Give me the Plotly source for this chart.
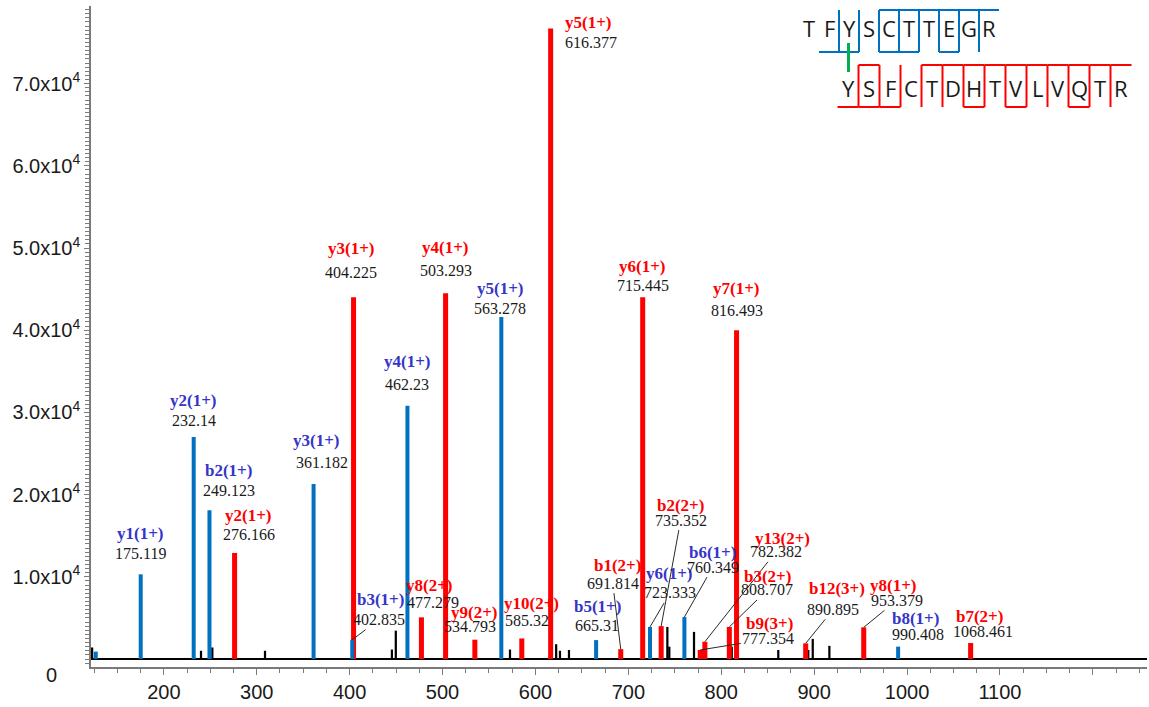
import plotly.graph_objects as go

# ---------------- spectrum data ----------------
# annotated fragment ions of the first (blue) peptide
blue_ions = ["y1(1+)", "y2(1+)", "b2(1+)", "y3(1+)", "b3(1+)", "y4(1+)",
             "y5(1+)", "b5(1+)", "y6(1+)", "b6(1+)", "b8(1+)"]
blue_mz = [175.119, 232.14, 249.123, 361.182, 402.835, 462.23,
           563.278, 665.31, 723.333, 760.349, 990.408]
blue_int = [10300, 27000, 18100, 21300, 2350, 30800,
            41600, 2300, 3900, 5100, 1500]

# annotated fragment ions of the second (red) peptide
red_ions = ["y2(1+)", "y3(1+)", "y8(2+)", "y4(1+)", "y9(2+)", "y10(2+)",
            "y5(1+)", "b1(2+)", "y6(1+)", "b2(2+)", "b9(3+)", "y13(2+)",
            "b3(2+)", "y7(1+)", "b12(3+)", "y8(1+)", "b7(2+)"]
red_mz = [276.166, 404.225, 477.279, 503.293, 534.793, 585.32,
          616.377, 691.814, 715.445, 735.352, 777.354, 782.382,
          808.707, 816.493, 890.895, 953.379, 1068.461]
red_int = [12900, 44000, 5070, 44500, 2350, 2500,
           76700, 1200, 44000, 4000, 1100, 2100,
           3900, 40000, 1900, 3850, 1950]

# unassigned blue peak
extra_blue_mz = [126.7]
extra_blue_int = [900]

# unassigned peaks
other_mz = [122.8, 240.0, 252.2, 308.9, 445.5, 449.7, 572.6, 617.6, 622.3,
            626.4, 636.1, 742.0, 744.1, 770.7, 779.0, 811.3, 861.4, 893.7,
            898.5, 916.4, 1067.8]
other_int = [1400, 1000, 1400, 1000, 1150, 3450, 1150, 1000, 1800,
             1000, 1100, 3900, 1500, 3300, 1100, 1500, 1100, 1100,
             2450, 1600, 1100]

# axis ticks
x_tick_vals = [200, 300, 400, 500, 600, 700, 800, 900, 1000, 1100, 1200]
x_tick_text = ["200", "300", "400", "500", "600", "700", "800", "900", "1000", "1100", ""]
y_tick_vals = [10000, 20000, 30000, 40000, 50000, 60000, 70000]
y_tick_text = ["1.0x10<sup>4</sup>", "2.0x10<sup>4</sup>", "3.0x10<sup>4</sup>",
               "4.0x10<sup>4</sup>", "5.0x10<sup>4</sup>", "6.0x10<sup>4</sup>",
               "7.0x10<sup>4</sup>"]

# cross-linked peptides and the observed cleavage sites
alpha_seq = "TFYSCTTEGR"
alpha_b = [2, 3, 5, 6, 8]
alpha_y = [1, 2, 3, 4, 5, 6]
beta_seq = "YSFCTDHTVLVQTR"
beta_b = [1, 2, 3, 7, 9, 12]
beta_y = [1, 2, 3, 4, 5, 6, 7, 8, 9, 10, 13]

# ---------------- styling / layout ----------------
W, H = 1149, 707
M_L, M_R, M_T, M_B = 91, 2, 6, 40
X_RANGE = [121.6, 1258.3]
Y_RANGE = [-973, 79440]

RED = "#FF0000"
BLUE_BAR = "#0070C0"
BLUE_TXT = "#3535C8"
TXT = "#1a1a1a"
AXIS = "#7a7a7a"
SERIF = "Liberation Serif"
SANS = "Liberation Sans"

# label placement (screen px relative to the bar top): name dx, dy, m/z dx, dy, leader line
label_pos = {
    175.119: (0, -41, 0, -21, False),
    232.14: (0, -37, 0, -17, False),
    249.123: (19.5, -40, 19.5, -20, False),
    276.166: (14.4, -37, 14.4, -18, False),
    361.182: (3.4, -43, 8.4, -21, False),
    404.225: (-2.5, -49, -2.5, -25, False),
    462.23: (0, -44, 0, -21, False),
    503.293: (0, -46, 0, -23, False),
    563.278: (-1, -29, -1, -9, False),
    616.377: (12.4, -6, 12.4, 14, False),
    715.445: (0, -31, 0, -12, False),
    816.493: (0, -42, 0, -20, False),
    402.835: (27.8, -40, 26.8, -20, True),
    477.279: (8.2, -32, 11.2, -15, False),
    534.793: (0, -27, -5, -13, False),
    585.32: (10, -35, 5, -18, False),
    665.31: (1, -34, 1, -15, False),
    691.814: (-3.4, -84, -8, -66, True),
    723.333: (19.3, -53, 20, -34, True),
    735.352: (19.5, -121, 19.5, -106, True),
    760.349: (28.3, -65, 28.3, -50, True),
    782.382: (78, -103, 71, -90, True),
    808.707: (38, -50, 38, -37, True),
    777.354: (69, -26, 68, -11, True),
    890.895: (31.6, -55, 27.6, -34, True),
    953.379: (29.6, -42, 33, -27, True),
    990.408: (17, -28, 20, -12, False),
    1068.461: (9.2, -26, 12.5, -11, False),
}
left_anchored = {616.377}

fig = go.Figure()
fig.add_bar(x=other_mz, y=other_int, width=2.4,
            marker=dict(color="black", line_width=0), hoverinfo="x+y")
fig.add_bar(x=red_mz, y=red_int, width=5.4,
            marker=dict(color=RED, line_width=0), hoverinfo="x+y")
fig.add_bar(x=blue_mz + extra_blue_mz, y=blue_int + extra_blue_int, width=4.3,
            marker=dict(color=BLUE_BAR, line_width=0), hoverinfo="x+y")

annotations = []


def add_ion_labels(names, mzs, ints, color):
    for name, mz, inten in zip(names, mzs, ints):
        ndx, ndy, mdx, mdy, leader = label_pos[mz]
        anchor = "left" if mz in left_anchored else "center"
        annotations.append(dict(
            x=mz, y=inten, xref="x", yref="y", text=f"<b>{name}</b>",
            showarrow=False, xshift=ndx, yshift=-ndy, xanchor=anchor, yanchor="middle",
            font=dict(family=SERIF, size=17, color=color)))
        if leader:
            annotations.append(dict(
                x=mz, y=inten, xref="x", yref="y", text=str(mz),
                showarrow=True, ax=mdx, ay=mdy, arrowhead=0, arrowwidth=1,
                arrowcolor="#2a2a2a", standoff=0, startstandoff=0,
                font=dict(family=SERIF, size=16, color=TXT)))
        else:
            annotations.append(dict(
                x=mz, y=inten, xref="x", yref="y", text=str(mz),
                showarrow=False, xshift=mdx, yshift=-mdy, xanchor=anchor, yanchor="middle",
                font=dict(family=SERIF, size=16, color=TXT)))


add_ion_labels(blue_ions, blue_mz, blue_int, BLUE_TXT)
add_ion_labels(red_ions, red_mz, red_int, RED)

PLOT_W = W - M_L - M_R
PLOT_H = H - M_T - M_B


def fx(px):
    return (px - M_L) / PLOT_W


def fy(py):
    return (H - M_B - py) / PLOT_H


# "0" label of the intensity axis
annotations.append(dict(x=fx(51.7), y=fy(675), xref="paper", yref="paper", text="0",
                        showarrow=False, xanchor="center", yanchor="middle",
                        font=dict(family=SANS, size=20, color=TXT)))

# ---------------- cross-link sequence map ----------------
shapes = []


def draw_peptide(seq, b_sites, y_sites, x0, dx, y_text, y_top, y_bot, color):
    for i, aa in enumerate(seq):
        annotations.append(dict(x=fx(x0 + dx * i), y=fy(y_text), xref="paper", yref="paper",
                                text=aa, showarrow=False, xanchor="center", yanchor="middle",
                                font=dict(family="Open Sans", size=22, color=TXT)))
    n = len(seq)
    b_pos = set(b_sites)
    y_pos = {n - k for k in y_sites}
    line = dict(color=color, width=2)
    for k in sorted(b_pos | y_pos):
        xs = x0 + dx * (k - 1) + dx / 2
        shapes.append(dict(type="line", xref="paper", yref="paper",
                           x0=fx(xs), x1=fx(xs), y0=fy(y_top), y1=fy(y_bot), line=line))
        if k in y_pos:
            shapes.append(dict(type="line", xref="paper", yref="paper",
                               x0=fx(xs), x1=fx(xs + dx), y0=fy(y_top), y1=fy(y_top), line=line))
        if k in b_pos:
            shapes.append(dict(type="line", xref="paper", yref="paper",
                               x0=fx(xs - dx), x1=fx(xs), y0=fy(y_bot), y1=fy(y_bot), line=line))


draw_peptide(alpha_seq, alpha_b, alpha_y, 809, 20, 28, 10, 52, BLUE_BAR)
draw_peptide(beta_seq, beta_b, beta_y, 848, 21, 88, 65, 107, RED)
# cross-link between the two tyrosines
shapes.append(dict(type="line", xref="paper", yref="paper",
                   x0=fx(848.5), x1=fx(848.5), y0=fy(43), y1=fy(72),
                   line=dict(color="#00B050", width=3)))

fig.update_layout(
    width=W, height=H,
    margin=dict(l=M_L, r=M_R, t=M_T, b=M_B, pad=0),
    paper_bgcolor="white", plot_bgcolor="white",
    barmode="overlay", showlegend=False,
    annotations=annotations, shapes=shapes,
    xaxis=dict(range=X_RANGE, showgrid=False, zeroline=False,
               showline=True, linecolor=AXIS, linewidth=1.5,
               ticks="outside", ticklen=6, tickcolor=AXIS, tickwidth=1,
               tickmode="array", tickvals=x_tick_vals, ticktext=x_tick_text,
               tickfont=dict(family=SANS, size=20, color=TXT),
               minor=dict(ticks="outside", tickmode="linear", tick0=0, dtick=25,
                          ticklen=4, tickcolor=AXIS, tickwidth=1)),
    yaxis=dict(range=Y_RANGE, showgrid=False,
               zeroline=True, zerolinecolor="black", zerolinewidth=1.5,
               showline=True, linecolor=AXIS, linewidth=1.5,
               ticks="outside", ticklen=5, tickcolor=AXIS, tickwidth=1,
               tickmode="array", tickvals=y_tick_vals, ticktext=y_tick_text,
               tickfont=dict(family=SANS, size=20, color=TXT),
               minor=dict(ticks="outside", tickmode="linear", tick0=0, dtick=500,
                          ticklen=4, tickcolor=AXIS, tickwidth=1)),
)

fig.write_html("out.html")
